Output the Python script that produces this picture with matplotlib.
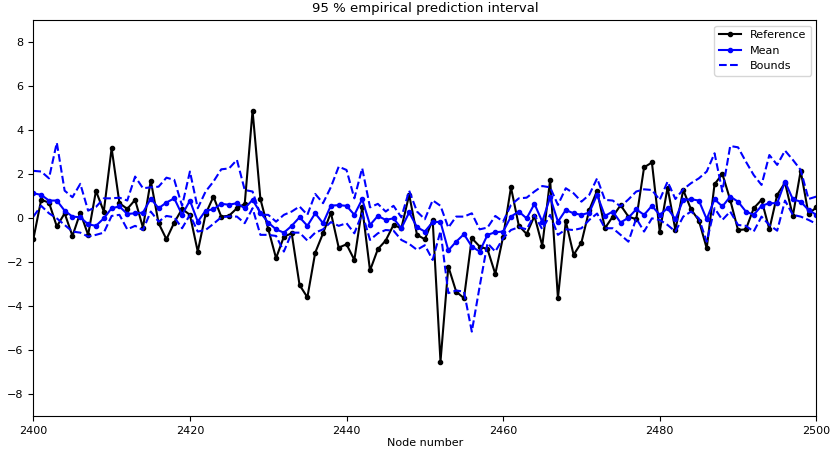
import numpy as np
import matplotlib
matplotlib.use("Agg")
import matplotlib.pyplot as plt

# node range shown
nodes = np.arange(2400, 2501)

reference = [
    -0.97, 0.82, 0.70, -0.39, 0.21, -0.82, 0.24, -0.77, 1.23, 0.29,
    3.17, 0.67, 0.41, 0.82, -0.44, 1.70, -0.24, -0.97, -0.21, 0.41,
    0.14, -1.53, 0.17, 0.97, 0.06, 0.10, 0.44, 0.64, 4.88, 0.86,
    -0.50, -1.83, -0.85, -0.70, -3.05, -3.61, -1.58, -0.70, 0.24, -1.35,
    -1.20, -1.91, 0.48, -2.39, -1.42, -1.03, -0.32, -0.47, 1.05, -0.77,
    -0.97, -0.09, -6.53, -2.21, -3.35, -3.65, -0.92, -1.30, -1.42, -2.55,
    -0.85, 1.39, -0.35, -0.73, 0.09, -1.26, 1.73, -3.65, -0.14, -1.68,
    -1.12, 0.36, 1.24, -0.47, 0.06, 0.58, 0.06, -0.06, 2.30, 2.52,
    -0.62, 1.38, -0.55, 1.27, 0.39, -0.12, -1.38, 1.53, 2.00, 0.82,
    -0.55, -0.52, 0.44, 0.82, -0.52, 1.05, 1.60, 0.09, 2.14, 0.18,
    0.48,
]

mean = [
    1.12, 1.05, 0.79, 0.79, 0.33, 0.06, 0.03, -0.29, -0.36, -0.02,
    0.44, 0.52, 0.18, 0.21, 0.24, 0.88, 0.44, 0.70, 0.89, 0.14,
    0.79, -0.17, 0.33, 0.39, 0.64, 0.60, 0.67, 0.44, 0.82, 0.24,
    -0.21, -0.52, -0.67, -0.36, 0.03, -0.36, 0.21, -0.24, 0.56, 0.58,
    0.55, 0.14, 0.85, -0.32, 0.09, -0.09, -0.02, -0.47, 0.25, -0.42,
    -0.62, -0.19, -0.18, -1.48, -1.08, -0.74, -1.30, -1.53, -0.77, -0.65,
    -0.62, 0.06, 0.29, -0.02, 0.64, -0.17, 0.94, -0.17, 0.36, 0.21,
    0.14, 0.24, 1.05, 0.09, 0.29, -0.21, 0.01, 0.39, 0.14, 0.55,
    0.14, 0.44, -0.06, 0.82, 0.85, 0.79, -0.06, 0.85, 0.52, 0.97,
    0.74, 0.29, 0.14, 0.55, 0.67, 0.67, 1.65, 0.85, 0.74, 0.36,
    0.14,
]

upper = [
    2.14, 2.11, 1.80, 3.42, 1.24, 0.94, 1.55, 0.33, 0.50, 0.89,
    0.89, 0.92, 0.79, 1.88, 1.35, 1.39, 1.42, 1.83, 1.73, 0.55,
    2.11, 0.44, 1.20, 1.65, 2.21, 2.25, 2.64, 1.27, 1.20, 0.14,
    0.14, -0.17, 0.14, 0.29, 0.52, 0.14, 1.09, 0.67, 1.40, 2.33,
    2.18, 0.89, 2.26, 0.48, 0.64, 0.29, 0.55, 0.03, 1.24, 0.29,
    -0.06, 0.80, 0.55, -0.44, 0.06, 0.06, 0.21, -0.52, -0.44, 0.09,
    -0.17, 0.59, 0.89, 0.92, 1.20, 1.45, 1.39, 0.59, 1.35, 1.12,
    0.74, 1.05, 1.80, 0.82, 0.79, 0.52, 0.84, 1.20, 1.30, 1.27,
    0.82, 1.65, 0.86, 1.30, 1.58, 1.80, 2.11, 2.94, 1.20, 3.27,
    3.21, 2.56, 1.95, 1.50, 2.86, 2.41, 3.06, 2.64, 2.18, 0.86,
    0.97,
]

lower = [
    0.06, 0.55, 0.21, -0.02, -0.32, -0.62, -0.67, -0.85, -0.77, -0.67,
    0.09, 0.14, -0.52, -0.36, -0.55, 0.29, -0.17, 0.09, 0.03, -0.47,
    0.14, -0.62, -0.55, -0.27, 0.03, 0.07, 0.06, -0.24, 0.44, -0.77,
    -0.77, -0.82, -1.53, -0.67, -0.67, -1.03, -0.67, -0.52, -0.19, -0.36,
    -0.24, -0.70, 0.21, -1.00, -0.70, -0.55, -0.58, -1.00, -1.18, -1.45,
    -1.24, -1.91, -0.60, -3.42, -3.30, -3.35, -5.17, -3.12, -1.15, -1.53,
    -0.92, -0.55, -0.42, -0.52, 0.14, -0.52, 0.14, -0.77, -0.52, -0.55,
    -0.47, -0.09, 0.20, -0.47, -0.47, -0.77, -1.08, -0.02, -0.62, -0.02,
    -0.09, -0.32, -0.62, 0.06, 0.29, -0.02, -1.08, 0.44, -0.09, 0.29,
    -0.32, -0.36, -0.62, 0.06, -0.32, -0.58, 0.79, 0.14, 0.06, -0.09,
    -0.27,
]

plt.rcParams['font.size'] = 8

fig, ax = plt.subplots(figsize=(8.33, 4.54), dpi=100)
fig.subplots_adjust(left=0.04, right=0.98, top=0.956, bottom=0.084)

ax.plot(nodes, reference, 'k.-', markersize=6, linewidth=1.5, label='Reference')
ax.plot(nodes, mean, 'b.-', markersize=6, linewidth=1.5, label='Mean')
ax.plot(nodes, upper, 'b--', linewidth=1.5, label='Bounds')
ax.plot(nodes, lower, 'b--', linewidth=1.5)

ax.set_xlim(2400, 2500)
ax.set_ylim(-9, 9)
ax.set_xticks(np.arange(2400, 2501, 20))
ax.set_yticks(np.arange(-8, 9, 2))
ax.tick_params(labelsize=8)
ax.set_xlabel('Node number', labelpad=2)
ax.set_title('95 % empirical prediction interval', fontsize=9.5)
ax.legend(loc='upper right', fontsize=8)

plt.savefig('out.png', dpi=100)
